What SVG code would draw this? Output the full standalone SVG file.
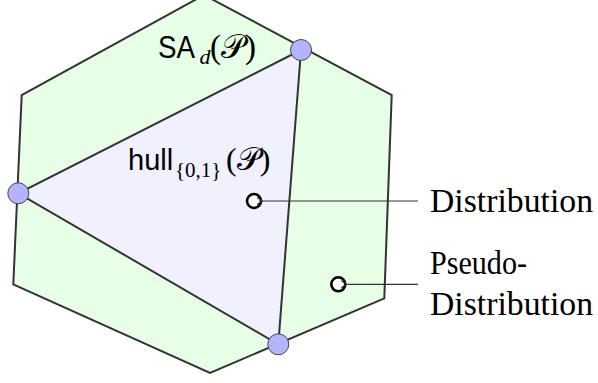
<svg xmlns="http://www.w3.org/2000/svg" width="598" height="383" viewBox="0 0 598 383">
<defs>
<style>
.edge{stroke:#333;stroke-width:2;stroke-linejoin:miter;}
.vert{fill:#b3b3ff;stroke:#444;stroke-width:1;}
.pt{fill:#fff;stroke:#000;stroke-width:2.6;}
.conn{stroke:#333;stroke-width:1.2;fill:none;}
.sans{font-family:"Liberation Sans",Arial,sans-serif;fill:#000;}
.serif{font-family:"Liberation Serif","Times New Roman",serif;fill:#000;}
.cal{font-family:"DejaVu Serif","DejaVu Sans",serif;font-style:normal;font-weight:normal;fill:#000;}
</style>
<marker id="arr" markerWidth="10" markerHeight="10" refX="0" refY="5" orient="auto" markerUnits="userSpaceOnUse">
<path d="M6,1.5 L0.5,5 L6,8.5" fill="none" stroke="#333" stroke-width="1.2"/>
</marker>
</defs>
<rect width="598" height="383" fill="#fff"/>
<g id="sa-polytope">
<polygon class="edge" fill="#e6ffe6" points="204,-5 391.7,95 384.3,298.3 210,373 13.3,284.3 21.7,95"/>
</g>
<g id="hull">
<polygon class="edge" fill="#f0f0ff" points="301,50 18.3,193.3 278.3,344.3"/>
</g>
<g id="v1"><circle class="vert" cx="301" cy="50" r="10.5"/></g>
<g id="v2"><circle class="vert" cx="18.3" cy="193.3" r="10.5"/></g>
<g id="v3"><circle class="vert" cx="278.3" cy="344.3" r="10.5"/></g>
<g id="label-sa">
<text class="sans" x="158" y="58" font-size="32" textLength="37" lengthAdjust="spacingAndGlyphs">SA</text>
<text class="serif" x="199.5" y="64" font-size="22" font-style="italic">d</text>
<text class="serif" x="210" y="58" font-size="33">(<tspan class="cal">𝒫</tspan>)</text>
</g>
<g id="label-hull">
<text class="sans" x="128" y="170" font-size="29">hull</text>
<text class="serif" x="175" y="177" font-size="21">{0,1}</text>
<text class="serif" x="226" y="170" font-size="32">(<tspan class="cal">𝒫</tspan>)</text>
</g>
<g id="distribution">
<circle class="pt" cx="254" cy="201" r="7"/>
<text class="serif" x="430" y="212" font-size="33" textLength="163" lengthAdjust="spacingAndGlyphs">Distribution</text>
</g>
<g id="pseudo-distribution">
<circle class="pt" cx="338.3" cy="284.3" r="7"/>
<text class="serif" x="430" y="274" font-size="33" textLength="97" lengthAdjust="spacingAndGlyphs">Pseudo-</text>
<text class="serif" x="430" y="315" font-size="33" textLength="163" lengthAdjust="spacingAndGlyphs">Distribution</text>
</g>
<g id="connectors">
<line class="conn" x1="418" y1="201" x2="263" y2="201" marker-end="url(#arr)"/>
<line class="conn" x1="418" y1="284.3" x2="347.3" y2="284.3" marker-end="url(#arr)"/>
</g>
</svg>
